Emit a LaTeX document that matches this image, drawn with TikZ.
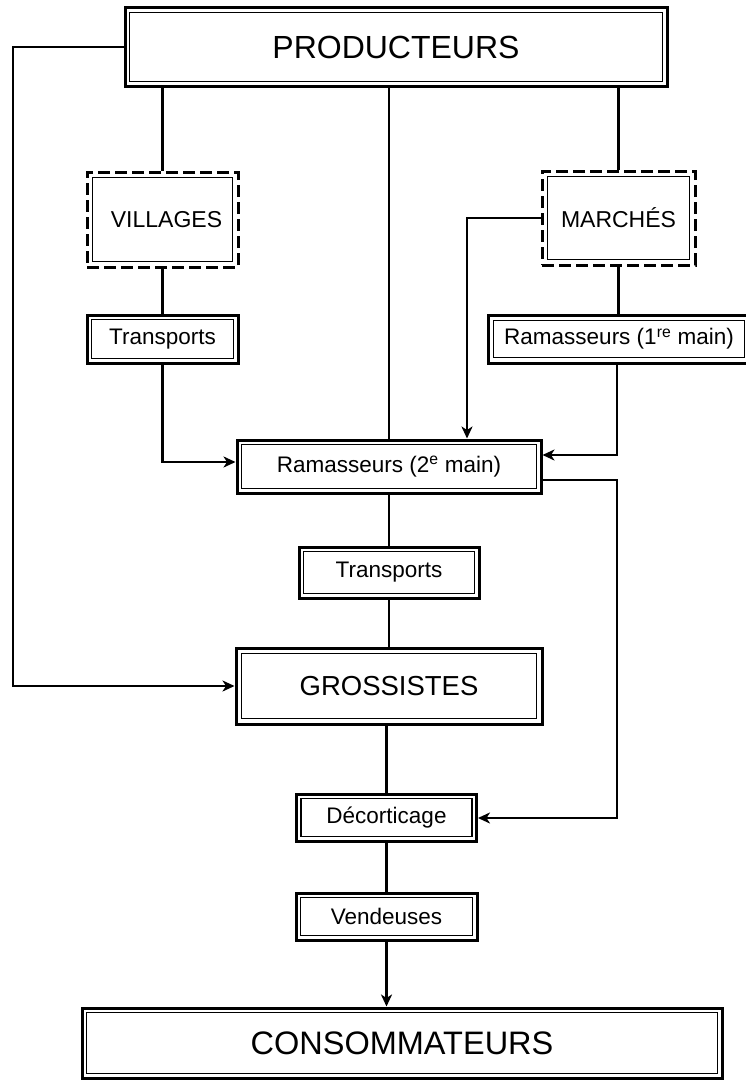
\documentclass[tikz,border=0pt]{standalone}
\usepackage{fontspec}
\setmainfont{Liberation Sans}
\usetikzlibrary{arrows.meta}
\tikzset{
  box/.style={draw, line width=3pt, inner sep=0pt, anchor=center},
  dbox/.style={draw, line width=3pt, dash pattern=on 12pt off 5pt, inner sep=0pt, anchor=center},
  conn/.style={line width=2.2pt},
  arr/.style={line width=2.2pt, -{Stealth[length=12pt,width=11pt,inset=3.5pt]}},
  innerline/.style={line width=1.2pt},
  small/.style={font=\fontsize{22.5}{26}\selectfont},
}
\newcommand{\innerbox}[2]{\draw[innerline] ([shift={(#2pt,-#2pt)}]#1.north west) rectangle ([shift={(-#2pt,#2pt)}]#1.south east);}
\begin{document}
\begin{tikzpicture}[x=1pt,y=-1pt]
\useasboundingbox (0,0) rectangle (746,1081);
% nodes
\node[box, minimum width=542pt, minimum height=78pt, font=\fontsize{32}{36}\selectfont] (prod) at (396,47) {PRODUCTEURS};
\node[dbox, minimum width=151pt, minimum height=95pt, font=\fontsize{23}{27}\selectfont] (vill) at (162.5,219.5) {\hspace{8pt}VILLAGES};
\node[dbox, minimum width=153pt, minimum height=94pt, font=\fontsize{23}{27}\selectfont] (march) at (618.5,218) {MARCHÉS};
\node[box, small, minimum width=151pt, minimum height=48pt] (trans1) at (162.5,339) {Transports};
\node[box, small, minimum width=262pt, minimum height=48pt] (ram1) at (619,339) {Ramasseurs (1\textsuperscript{re} main)};
\node[box, small, minimum width=304pt, minimum height=53pt] (ram2) at (389,466.5) {Ramasseurs (2\textsuperscript{e} main)};
\node[box, small, minimum width=180pt, minimum height=51pt] (trans2) at (389,572.5) {Transports};
\node[box, minimum width=306pt, minimum height=76pt, font=\fontsize{27.5}{31}\selectfont] (gross) at (389,686) {GROSSISTES};
\node[box, small, minimum width=180pt, minimum height=47pt] (deco) at (386.5,817.5) {Décorticage};
\node[box, small, minimum width=181pt, minimum height=47pt] (vend) at (386.5,916.5) {Vendeuses};
\node[box, minimum width=640pt, minimum height=70pt, font=\fontsize{32.5}{36}\selectfont] (cons) at (402,1043) {CONSOMMATEURS};
% inner lines
\innerbox{prod}{6}
\innerbox{vill}{7}
\innerbox{march}{7}
\innerbox{trans1}{6}
\innerbox{ram1}{7}
\innerbox{ram2}{6}
\innerbox{trans2}{6}
\innerbox{gross}{7}
\innerbox{deco}{6}
\innerbox{vend}{6}
\innerbox{cons}{6}
% coordinates
\coordinate (L1) at (13,47);
\coordinate (L2) at (13,686);
\coordinate (M1) at (467,218);
\coordinate (T1) at (162.5,462);
\coordinate (R1) at (617,455);
\coordinate (R2a) at (617,480);
\coordinate (R2b) at (617,818);
% connectors
\draw[conn] (vill.north |- prod.south) -- (vill.north);
\draw[conn] (ram2.north |- prod.south) -- (ram2.north);
\draw[conn] (march.north |- prod.south) -- (march.north);
\draw[conn] (vill.south) -- (trans1.north);
\draw[conn] (march.south) -- (ram1.north -| march.south);
\draw[arr] (trans1.south) -- (T1) -- (T1 -| ram2.west);
\draw[arr] (march.west) -- (M1) -- (M1 |- ram2.north);
\draw[arr] (ram1.south -| R1) -- (R1) -- (R1 -| ram2.east);
\draw[arr] (R2a -| ram2.east) -- (R2a) -- (R2b) -- (R2b -| deco.east);
\draw[arr] (prod.west) -- (L1) -- (L2) -- (gross.west);
\draw[conn] (ram2.south) -- (trans2.north);
\draw[conn] (trans2.south) -- (gross.north);
\draw[conn] (gross.south -| deco.north) -- (deco.north);
\draw[conn] (deco.south) -- (vend.north);
\draw[arr] (vend.south) -- (vend.south |- cons.north);
\end{tikzpicture}
\end{document}
